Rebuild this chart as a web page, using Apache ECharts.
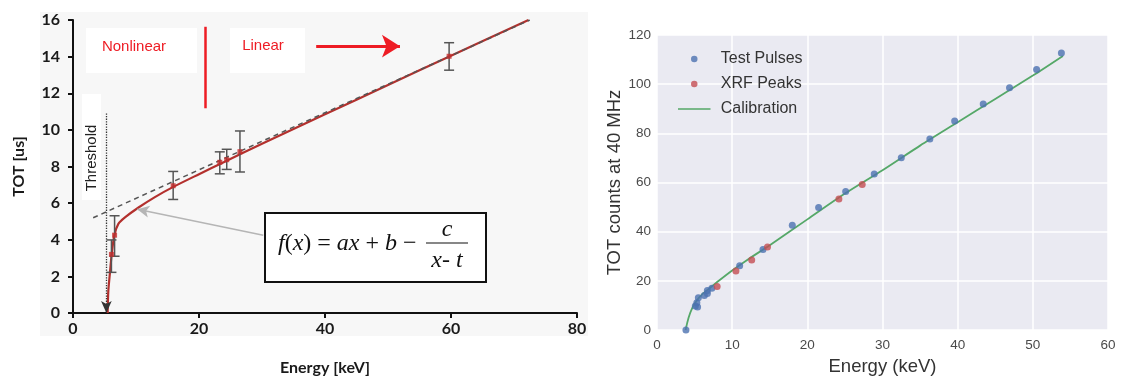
<!DOCTYPE html>
<html>
<head>
<meta charset="utf-8">
<script src="https://cdn.jsdelivr.net/npm/echarts@6/dist/echarts.min.js"></script>
<style>html,body{margin:0;padding:0;background:#fff}#c{width:1133px;height:381px}</style>
</head>
<body>
<div id="c"></div>
<script>
// ---------- Left panel data (TOT [us] vs Energy [keV]) ----------
const fitCurve = [[5.5,0],[5.6,1.17],[5.87,2.22],[6.14,3.2],[6.56,4.25],[7.2,4.87],[8.25,5.22],[10.4,5.76],[13,6.33],[16,6.9],[20,7.58],[24,8.25],[30,9.24],[40,10.85],[50,12.45],[60,14.05],[72.3,16]];
const linearAsymptote = [[3.2,5.2],[72.5,16]];
const measEnergy = [6.1, 6.6, 15.9, 23.3, 24.4, 26.5, 59.7];
const measTOT    = [3.2, 4.25, 6.95, 8.23, 8.37, 8.81, 14.02];
const errLow     = [2.22, 3.1, 6.2, 7.6, 7.84, 7.7, 13.26];
const errHigh    = [3.99, 5.31, 7.73, 8.8, 8.94, 9.94, 14.76];
const thresholdE = 5.3;

// ---------- Right panel data (TOT counts at 40 MHz vs Energy (keV)) ----------
const testPulses = [[3.85,0],[5.1,9.8],[5.4,9.4],[5.3,11.1],[5.5,13.1],[6.3,14.0],[6.7,14.8],[6.7,16.1],[7.3,17.0],[11.0,26.1],[14.1,32.7],[18.0,42.6],[21.5,49.8],[25.1,56.3],[28.9,63.5],[32.5,70.1],[36.3,77.7],[39.6,85.0],[43.4,91.9],[46.9,98.5],[50.5,106],[53.8,112.7]];
const xrfPeaks = [[8.0,17.7],[10.5,24.0],[12.6,28.5],[14.7,33.8],[24.2,53.3],[27.3,59.2]];
const calibration = [[3.8,0],[4.2,5],[4.7,9],[5.3,12],[6,14.5],[7,17],[8,19.5],[10,24.2],[12,28.5],[15,34.5],[20,45],[25,55.5],[30,65],[35,75],[40,84.5],[45,94],[50,103.5],[54,111.5]];

const measPoints = measEnergy.map((e,i)=>[e, measTOT[i]]);
const errBars = measEnergy.map((e,i)=>[e, errLow[i], errHigh[i]]);

const boldFont = 'Lato';
const chart = echarts.init(document.getElementById('c'), null, {renderer:'canvas'});

const leftAxisCommon = {
  axisLine:{show:true, lineStyle:{color:'#111', width:2}},
  axisTick:{show:true, length:5, lineStyle:{color:'#111', width:2}},
  splitLine:{show:false},
  axisLabel:{color:'#1a1a1a', fontFamily:boldFont, fontWeight:'bold', fontSize:16},
  nameTextStyle:{color:'#1a1a1a', fontFamily:boldFont, fontWeight:'bold', fontSize:16}
};
const rightAxisCommon = {
  axisLine:{show:false}, axisTick:{show:false},
  splitLine:{show:true, lineStyle:{color:'#ffffff', width:1.5}},
  axisLabel:{color:'#4a4a4a', fontFamily:'Liberation Sans', fontSize:13.5},
  nameTextStyle:{color:'#333', fontFamily:'Liberation Sans', fontSize:18.5}
};
const lineIcon = 'path://M0,0L0.01,0L0.01,0.01L0,0.01Z M0,2.6L35,2.6L35,4.4L0,4.4Z M34.99,6.99L35,6.99L35,7L34.99,7Z';

const option = {
  animation:false,
  backgroundColor:'#ffffff',
  grid:[
    {left:73, top:20, width:504, height:302, show:false, containLabel:false},
    {left:657, top:35, width:451, height:302, show:true, backgroundColor:'#EAEAF2', borderWidth:0, containLabel:false}
  ],
  xAxis:[
    Object.assign({gridIndex:0, type:'value', min:0, max:80, interval:20, name:'Energy [keV]', nameLocation:'middle', nameGap:47}, leftAxisCommon,
      {axisLabel:Object.assign({}, leftAxisCommon.axisLabel, {margin:8})}),
    Object.assign({gridIndex:1, type:'value', min:0, max:60, interval:10, name:'Energy (keV)', nameLocation:'middle', nameGap:27}, rightAxisCommon,
      {axisLabel:Object.assign({}, rightAxisCommon.axisLabel, {margin:8})})
  ],
  yAxis:[
    Object.assign({gridIndex:0, type:'value', min:0, max:16, interval:2, name:'TOT [us]', nameLocation:'middle', nameGap:46}, leftAxisCommon,
      {axisLabel:Object.assign({}, leftAxisCommon.axisLabel, {margin:13})}),
    Object.assign({gridIndex:1, type:'value', min:0, max:120, interval:20, name:'TOT counts at 40 MHz', nameLocation:'middle', nameGap:32}, rightAxisCommon,
      {axisLabel:Object.assign({}, rightAxisCommon.axisLabel, {margin:6})})
  ],
  legend:{
    orient:'vertical', left:673, top:44, itemWidth:35, itemHeight:6.5, itemGap:5,
    data:['Test Pulses','XRF Peaks',{name:'Calibration', icon:lineIcon}],
    textStyle:{color:'#333', fontFamily:'Liberation Sans', fontSize:16, lineHeight:20, padding:[0,0,0,4]},
    selectedMode:false
  },
  graphic:[
    {type:'rect', z:-10, silent:true, shape:{x:40, y:12, width:548, height:324}, style:{fill:'#f7f7f7'}},
    {type:'rect', z:-5, silent:true, shape:{x:86, y:28, width:111, height:45}, style:{fill:'#ffffff'}},
    {type:'rect', z:-5, silent:true, shape:{x:230, y:28, width:75, height:45}, style:{fill:'#ffffff'}},
    {type:'rect', z:-5, silent:true, shape:{x:82, y:94, width:19, height:106}, style:{fill:'#ffffff'}},
    {type:'text', z:10, silent:true, x:134, y:47, style:{text:'Nonlinear', fill:'#ee1c24', font:'15px "Liberation Sans"', align:'center', verticalAlign:'middle'}},
    {type:'text', z:10, silent:true, x:263, y:46, style:{text:'Linear', fill:'#ee1c24', font:'15px "Liberation Sans"', align:'center', verticalAlign:'middle'}},
    {type:'text', z:10, silent:true, x:92, y:158, rotation:Math.PI/2, style:{text:'Threshold', fill:'#222', font:'15px "Liberation Sans"', align:'center', verticalAlign:'middle'}},
    {type:'rect', z:10, silent:true, shape:{x:265, y:213, width:221, height:69}, style:{fill:'#ffffff', stroke:'#111', lineWidth:2}},
    {type:'text', z:11, silent:true, x:278, y:244, style:{
      text:'{i|f}{n|(}{i|x}{n|) = }{i|ax}{n| + }{i|b}{n| −}',
      align:'left', verticalAlign:'middle',
      rich:{i:{fontFamily:'Liberation Serif', fontStyle:'italic', fontSize:24, fill:'#111'}, n:{fontFamily:'Liberation Serif', fontSize:24, fill:'#111'}}
    }},
    {type:'line', z:11, silent:true, shape:{x1:426, y1:243, x2:468, y2:243}, style:{stroke:'#111', lineWidth:1.2}},
    {type:'text', z:11, silent:true, x:447, y:230, style:{text:'c', font:'italic 24px "Liberation Serif"', fill:'#111', align:'center', verticalAlign:'middle'}},
    {type:'text', z:11, silent:true, x:447, y:261, style:{text:'x- t', font:'italic 24px "Liberation Serif"', fill:'#111', align:'center', verticalAlign:'middle'}}
  ],
  series:[
    {type:'line', name:'fit', xAxisIndex:0, yAxisIndex:0, data:fitCurve, smooth:0.25, showSymbol:false, symbol:'none',
      lineStyle:{color:'#b3302d', width:2.2}, z:3, silent:true},
    {type:'line', name:'asymptote', xAxisIndex:0, yAxisIndex:0, data:linearAsymptote, showSymbol:false, symbol:'none',
      lineStyle:{color:'#555', width:1.5, type:[5,4]}, z:4, silent:true,
      markLine:{silent:true, animation:false, label:{show:false}, emphasis:{disabled:true},
        data:[
          [{coord:[thresholdE,10.9], symbol:'none', lineStyle:{color:'#333', width:1.3, type:'dotted'}}, {coord:[thresholdE,0], symbol:'arrow', symbolSize:[8,12]}],
          [{coord:[30.2,4.25], symbol:'none', lineStyle:{color:'#b5b5b5', width:1.5, type:'solid'}}, {coord:[10.2,5.67], symbol:'arrow', symbolSize:[9,12]}],
          [{coord:[21,15.63], symbol:'none', lineStyle:{color:'#ee1c24', width:2.5, type:'solid'}}, {coord:[21,11.18], symbol:'none'}],
          [{coord:[38.6,14.57], symbol:'none', lineStyle:{color:'#ee1c24', width:3, type:'solid'}}, {coord:[51.9,14.57], symbol:'arrow', symbolSize:[17,18]}]
        ]}
    },
    {type:'custom', name:'err', xAxisIndex:0, yAxisIndex:0, data:errBars, z:5, silent:true,
      encode:{x:0, y:[1,2]},
      renderItem:function(params, api){
        const x = api.value(0);
        const lo = api.coord([x, api.value(1)]);
        const hi = api.coord([x, api.value(2)]);
        const w = 5;
        const st = {stroke:'#555', lineWidth:1.5};
        return {type:'group', children:[
          {type:'line', shape:{x1:lo[0], y1:lo[1], x2:hi[0], y2:hi[1]}, style:st},
          {type:'line', shape:{x1:lo[0]-w, y1:lo[1], x2:lo[0]+w, y2:lo[1]}, style:st},
          {type:'line', shape:{x1:hi[0]-w, y1:hi[1], x2:hi[0]+w, y2:hi[1]}, style:st}
        ]};
      }
    },
    {type:'scatter', name:'meas', xAxisIndex:0, yAxisIndex:0, data:measPoints, symbol:'rect', symbolSize:5,
      itemStyle:{color:'#c42a2a'}, z:6, silent:true},
    {type:'line', name:'Calibration', xAxisIndex:1, yAxisIndex:1, data:calibration, smooth:0.25, showSymbol:false, symbol:'none',
      lineStyle:{color:'#55A868', width:1.8}, itemStyle:{color:'#55A868'}, z:3, silent:true},
    {type:'scatter', name:'Test Pulses', xAxisIndex:1, yAxisIndex:1, data:testPulses, symbolSize:7,
      itemStyle:{color:'#4C72B0'}, z:4, silent:true},
    {type:'scatter', name:'XRF Peaks', xAxisIndex:1, yAxisIndex:1, data:xrfPeaks, symbolSize:7,
      itemStyle:{color:'#C44E52'}, z:5, silent:true}
  ]
};
chart.setOption(option);
</script>
</body>
</html>
